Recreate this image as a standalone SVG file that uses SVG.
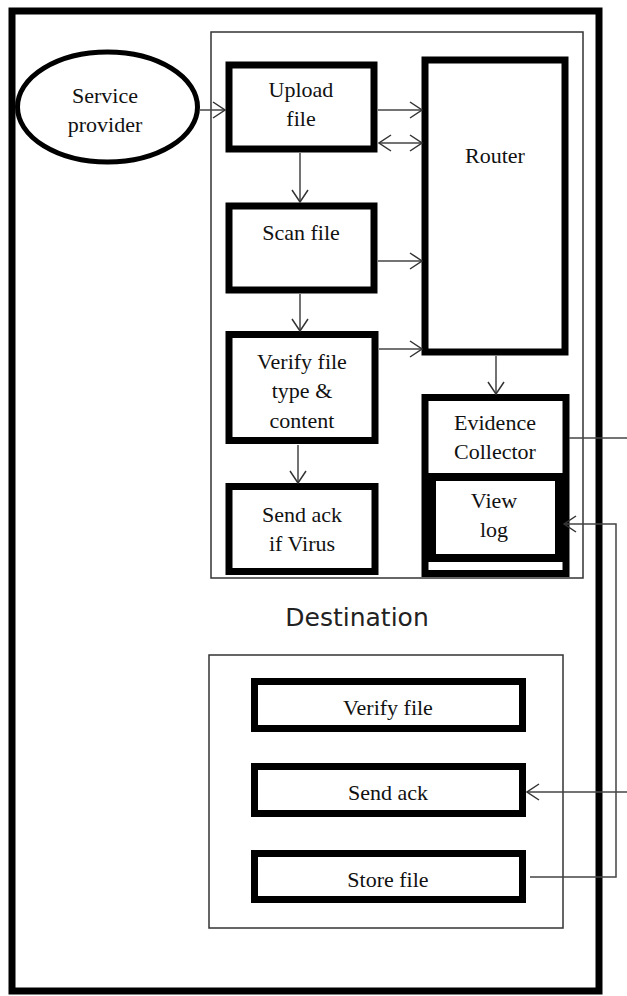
<svg xmlns="http://www.w3.org/2000/svg" width="627" height="996" viewBox="0 0 627 996">
<style>
.t{font-family:"Liberation Serif","Times New Roman",serif;font-size:22px;fill:#111;text-anchor:middle}
.box{fill:#fff;stroke:#000;stroke-width:7}
.thin{fill:none;stroke:#333;stroke-width:1.5}
.c{fill:none;stroke:#444;stroke-width:1.5}
</style>
<defs>
<marker id="a" viewBox="0 0 14 18" refX="13" refY="9" markerWidth="14" markerHeight="18" markerUnits="userSpaceOnUse" orient="auto-start-reverse">
<path d="M1,1 L13,9 L1,17" fill="none" stroke="#333" stroke-width="1.5"/>
</marker>
</defs>
<rect width="627" height="996" fill="#fff"/>
<g id="outer-frame"><rect x="12" y="11" width="587" height="980" fill="none" stroke="#000" stroke-width="7"/></g>
<g id="source-frame"><rect x="211" y="32" width="372" height="546" class="thin"/></g>
<g id="destination-frame"><rect x="209" y="655" width="354" height="273" class="thin"/>
<text x="357" y="626" style="font-family:'DejaVu Sans',sans-serif;font-size:25px;fill:#222;text-anchor:middle">Destination</text></g>
<g id="service-provider"><ellipse cx="107.5" cy="107" rx="90" ry="55" fill="#fff" stroke="#000" stroke-width="5"/>
<text class="t" x="105" y="103">Service</text><text class="t" x="105" y="132">provider</text></g>
<g id="upload-file"><rect class="box" x="229" y="65" width="145" height="84"/>
<text class="t" x="301" y="97">Upload</text><text class="t" x="301" y="126">file</text></g>
<g id="scan-file"><rect class="box" x="229" y="206" width="145" height="84"/>
<text class="t" x="301" y="240">Scan file</text></g>
<g id="verify-type"><rect class="box" x="229" y="334.5" width="146" height="106"/>
<text class="t" x="302" y="369">Verify file</text><text class="t" x="302" y="398">type &amp;</text><text class="t" x="302" y="428">content</text></g>
<g id="send-ack-virus"><rect class="box" x="229" y="486.5" width="146" height="85"/>
<text class="t" x="302" y="522">Send ack</text><text class="t" x="302" y="551">if Virus</text></g>
<g id="router"><rect class="box" x="425" y="60" width="140" height="292" stroke-width="6"/>
<text class="t" x="495" y="163">Router</text></g>
<g id="evidence-collector"><rect class="box" x="425" y="397.5" width="141" height="176"/>
<text class="t" x="495" y="430">Evidence</text><text class="t" x="495" y="459">Collector</text></g>
<g id="view-log"><rect x="432" y="477" width="127" height="81" fill="#fff" stroke="#000" stroke-width="8"/>
<text class="t" x="494" y="508">View</text><text class="t" x="494" y="537">log</text></g>
<g id="verify-file"><rect class="box" x="254.5" y="681.5" width="268" height="47"/>
<text class="t" x="388" y="715">Verify file</text></g>
<g id="send-ack"><rect class="box" x="254.5" y="766.5" width="268" height="47"/>
<text class="t" x="388" y="800">Send ack</text></g>
<g id="store-file"><rect class="box" x="254.5" y="853.5" width="268" height="46"/>
<text class="t" x="388" y="887">Store file</text></g>
<g id="connectors">
<path class="c" d="M200,110 H225" marker-end="url(#a)"/>
<path class="c" d="M378,110 H422" marker-end="url(#a)"/>
<path class="c" d="M379,143 H422" marker-start="url(#a)" marker-end="url(#a)"/>
<path class="c" d="M378,261 H422" marker-end="url(#a)"/>
<path class="c" d="M379,349 H422" marker-end="url(#a)"/>
<path class="c" d="M300,153 V202" marker-end="url(#a)"/>
<path class="c" d="M300,294 V331" marker-end="url(#a)"/>
<path class="c" d="M298,445 V483" marker-end="url(#a)"/>
<path class="c" d="M496,356 V394" marker-end="url(#a)"/>
<path class="c" d="M569,438 H627"/>
<path class="c" d="M530,877 H616 V524 H564" marker-end="url(#a)"/>
<path class="c" d="M627,792 H527" marker-end="url(#a)"/>
</g>
</svg>
